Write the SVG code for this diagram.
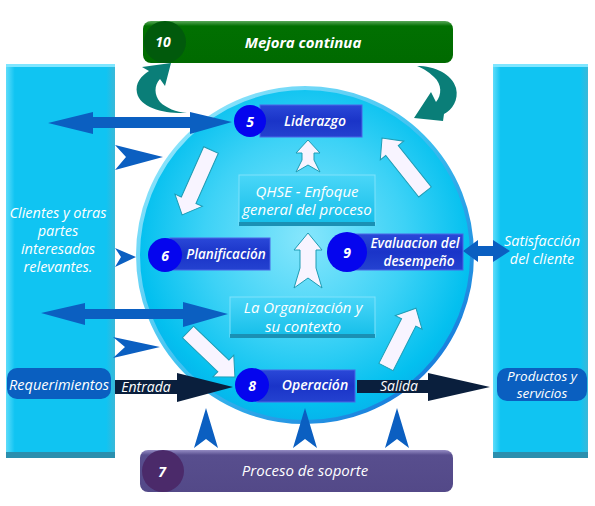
<svg xmlns="http://www.w3.org/2000/svg" width="595" height="506" viewBox="0 0 595 506">
<defs>
<style>
.t{font-family:"Open Sans","Liberation Sans",sans-serif;font-style:italic;fill:#ffffff;text-anchor:middle;dominant-baseline:central}
.lbl{font-size:14px}
.big{font-size:15px}
.side{font-size:14.5px}
.bold{font-size:13.5px;font-weight:600}
.num{font-size:14px;font-weight:700}
.blue{fill:#0b5fc1}
.navy{fill:#0a1f3d}
.white{fill:#f8f4ff;stroke:#1e9cb4;stroke-width:1}
.teal{fill:#0a7e78}
.bbox{fill:url(#gBlue);stroke:#4a66e6;stroke-width:1}
.cbox{fill:url(#gCyan);stroke:#7fe2fb;stroke-width:1}
.ncirc{fill:#0505ee}
</style>
<radialGradient id="gCircle" cx="0.5" cy="0.45" r="0.55">
<stop offset="0" stop-color="#86e6fc"/>
<stop offset="0.55" stop-color="#3dd2f6"/>
<stop offset="0.9" stop-color="#04c0ef"/>
<stop offset="1" stop-color="#06b4ec"/>
</radialGradient>
<linearGradient id="gRim" x1="0" y1="0" x2="1" y2="1">
<stop offset="0" stop-color="#a6f0ff"/>
<stop offset="0.5" stop-color="#3cc0f0"/>
<stop offset="1" stop-color="#0c66d6"/>
</linearGradient>
<linearGradient id="gPanel" x1="0" y1="0" x2="1" y2="0">
<stop offset="0" stop-color="#5edcfa"/>
<stop offset="0.08" stop-color="#10c4f2"/>
<stop offset="0.92" stop-color="#10c4f2"/>
<stop offset="1" stop-color="#3ab8d8"/>
</linearGradient>
<linearGradient id="gBlue" x1="0" y1="0" x2="0" y2="1">
<stop offset="0" stop-color="#2a48d8"/>
<stop offset="0.5" stop-color="#1a34c8"/>
<stop offset="1" stop-color="#2442d0"/>
</linearGradient>
<linearGradient id="gCyan" x1="0" y1="0" x2="0" y2="1">
<stop offset="0" stop-color="#4ad6f8"/>
<stop offset="1" stop-color="#14bee9"/>
</linearGradient>
<linearGradient id="gGreen" x1="0" y1="0" x2="0" y2="1">
<stop offset="0" stop-color="#5aa85a"/>
<stop offset="0.12" stop-color="#017001"/>
<stop offset="1" stop-color="#006a00"/>
</linearGradient>
<linearGradient id="gPurple" x1="0" y1="0" x2="0" y2="1">
<stop offset="0" stop-color="#958cc4"/>
<stop offset="0.12" stop-color="#584e8e"/>
<stop offset="1" stop-color="#534988"/>
</linearGradient>
</defs>

<!-- side panels -->
<g id="panel-left">
<rect x="6" y="64" width="109" height="394" fill="url(#gPanel)"/>
<rect x="6" y="64" width="109" height="3" fill="#7fe6ff"/>
<rect x="6" y="452" width="109" height="6" fill="#2b8fae"/>
<text class="t side" x="58" y="212">Clientes y otras</text>
<text class="t side" x="58" y="230">partes</text>
<text class="t side" x="58" y="248">interesadas</text>
<text class="t side" x="58" y="266">relevantes.</text>
</g>
<g id="panel-right">
<rect x="493" y="64" width="95" height="394" fill="url(#gPanel)"/>
<rect x="493" y="64" width="95" height="3" fill="#7fe6ff"/>
<rect x="493" y="452" width="95" height="6" fill="#2b8fae"/>
<text class="t side" x="542" y="240">Satisfacción</text>
<text class="t side" x="542" y="258">del cliente</text>
</g>

<!-- main circle -->
<g id="circle">
<circle cx="305" cy="255" r="167" fill="url(#gCircle)" stroke="url(#gRim)" stroke-width="4"/>
</g>

<!-- top and bottom bars -->
<g id="mejora">
<rect x="143" y="21" width="310" height="42" rx="8" fill="url(#gGreen)"/>
<circle cx="165" cy="42" r="21" fill="#015a0c"/>
<text class="t num" x="163" y="41">10</text>
<text class="t" x="303" y="42" style="font-size:15px;font-weight:700">Mejora continua</text>
</g>
<g id="soporte">
<rect x="140" y="450" width="313" height="42" rx="8" fill="url(#gPurple)"/>
<circle cx="163" cy="471" r="21" fill="#4b2a6a"/>
<text class="t num" x="162" y="471">7</text>
<text class="t big" x="305" y="470">Proceso de soporte</text>
</g>

<!-- connectors -->
<g id="connectors">
<!-- teal curved arrows -->
<path class="teal" d="M187,113 C165,114 140,108 137,93 C135,83 141,76 149,71 L142,67 L171,63 L165,86 L160,79 C154,85 154,95 160,102 C166,108 176,112 187,113 Z"/>
<path class="teal" d="M417,66 C435,66 452,74 456,88 C459,100 452,110 444,114 L443,121 L414,118 L431,92 L436,102 C442,95 442,84 434,77 C428,71 422,68 417,66 Z"/>

<!-- blue double arrows -->
<polygon class="blue" points="48,123 93,112 93,117 190,117 190,112 232,122 190,134 190,128 93,128 93,134"/>
<polygon class="blue" points="41,313 85,303 85,309 183,309 183,302 228,314 183,327 183,319 85,319 85,325"/>
<polygon class="blue" points="463,251 478,240 478,246 493,246 493,240 510,251 493,262 493,256 478,256 478,262"/>

<!-- blue chevrons -->
<polygon class="blue" points="115,145 163,157 115,170 126,157"/>
<polygon class="blue" points="115,248 136,257 115,267 121,257"/>
<polygon class="blue" points="113,337 160,347 113,358 125,347"/>
<polygon class="blue" points="206,408 218,448 206,439 194,448"/>
<polygon class="blue" points="305,408 317,448 305,439 293,448"/>
<polygon class="blue" points="397,408 409,448 397,439 385,448"/>

<!-- navy arrows -->
<polygon class="navy" points="115,380 177,380 177,373 233,387 177,402 177,394 115,394"/>
<polygon class="navy" points="357,380 428,380 428,373 490,387 428,401 428,393 357,393"/>
<text class="t lbl" x="146" y="386">Entrada</text>
<text class="t lbl" x="399" y="385">Salida</text>

<!-- white block arrows -->
<polygon class="white" points="308,233 322,250 316,250 316,268 322,288 308,278 294,288 300,268 300,250 294,250"/>
<polygon class="white" points="308,140 320,153 314,153 314,160 320,172 308,165 296,172 302,160 302,153 296,153"/>
<polygon class="white" transform="translate(211,150) rotate(114)" points="0,-8 55,-8 55,-15 71,0 55,15 55,8 0,8"/>
<polygon class="white" transform="translate(425,192) rotate(-128.5)" points="0,-8 53,-8 53,-15 69,0 53,15 53,8 0,8"/>
<polygon class="white" transform="translate(188,332) rotate(43.8)" points="0,-8 49,-8 49,-15 65,0 49,15 49,8 0,8"/>
<polygon class="white" transform="translate(386,367) rotate(-63)" points="0,-8 50,-8 50,-15 66,0 50,15 50,8 0,8"/>
</g>

<!-- inner nodes -->
<g id="qhse">
<rect x="239" y="175" width="136" height="50" class="cbox"/>
<rect x="239" y="222" width="136" height="4" fill="#1a90b4"/>
<text class="t big" x="307" y="191">QHSE - Enfoque</text>
<text class="t big" x="307" y="209">general del proceso</text>
</g>
<g id="organizacion">
<rect x="230" y="297" width="145" height="40" class="cbox"/>
<rect x="230" y="334" width="145" height="4" fill="#1a90b4"/>
<text class="t big" x="303" y="307">La Organización y</text>
<text class="t big" x="303" y="326">su contexto</text>
</g>
<g id="liderazgo">
<rect x="260" y="105" width="102" height="32" class="bbox"/>
<circle cx="250" cy="121" r="16" class="ncirc"/>
<text class="t num" x="250" y="121">5</text>
<text class="t bold" x="315" y="120" style="font-size:14px">Liderazgo</text>
</g>
<g id="planificacion">
<rect x="170" y="238" width="100" height="32" class="bbox"/>
<circle cx="165" cy="255" r="17" class="ncirc"/>
<text class="t num" x="165" y="255">6</text>
<text class="t bold" x="226" y="254">Planificación</text>
</g>
<g id="evaluacion">
<rect x="353" y="234" width="110" height="36" class="bbox"/>
<circle cx="347" cy="252" r="20" class="ncirc"/>
<text class="t num" x="347" y="252">9</text>
<text class="t bold" x="415" y="243">Evaluacion del</text>
<text class="t bold" x="419" y="261">desempeño</text>
</g>
<g id="operacion">
<rect x="257" y="370" width="98" height="32" class="bbox"/>
<circle cx="252" cy="385" r="17" class="ncirc"/>
<text class="t num" x="252" y="385">8</text>
<text class="t bold" x="315" y="384" style="font-size:14px">Operación</text>
</g>

<!-- side boxes -->
<g id="requerimientos">
<rect x="7" y="368" width="104" height="31" rx="10" fill="#0a5fc0"/>
<text class="t" x="59" y="384" style="font-size:14.5px">Requerimientos</text>
</g>
<g id="productos">
<rect x="497" y="368" width="90" height="33" rx="10" fill="#0a5fc0"/>
<text class="t" x="542" y="376" style="font-size:13.5px">Productos y</text>
<text class="t" x="542" y="393" style="font-size:13.5px">servicios</text>
</g>
</svg>
